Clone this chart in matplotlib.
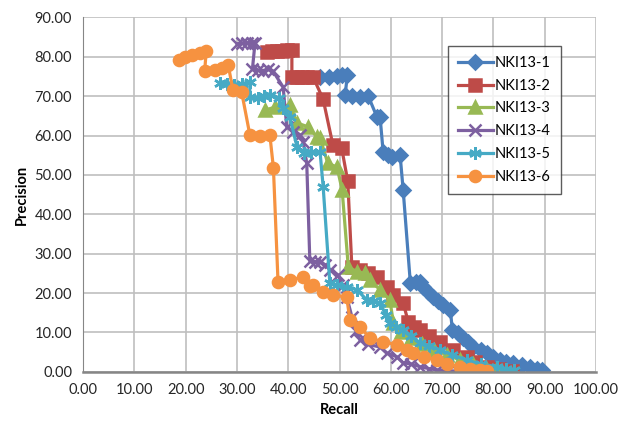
import matplotlib
matplotlib.use("Agg")
import matplotlib.pyplot as plt
from matplotlib.ticker import FormatStrFormatter


# recall / precision
recall_1 = [46.2, 48.0, 49.5, 50.5, 51.5, 51.1, 52.5, 54.0, 55.6, 57.3, 57.9, 58.5, 59.5, 60.2, 61.8,
            62.4, 63.8, 65.0, 65.7, 66.3, 67.2, 68.3, 69.2, 70.2, 71.6, 72.0, 73.0, 74.1, 75.0, 76.1,
            77.5, 78.8, 80.0, 81.3, 82.5, 83.9, 85.5, 87.2, 88.5, 89.5]
prec_1 = [74.9, 75.0, 75.2, 75.4, 75.4, 70.3, 70.0, 69.8, 70.0, 64.7, 64.7, 55.8, 55.0, 54.6, 55.1,
          46.2, 22.6, 22.7, 22.8, 21.5, 20.3, 19.0, 18.0, 17.0, 15.7, 10.6, 9.8, 8.6, 7.5, 6.4,
          5.6, 4.8, 3.9, 3.0, 2.5, 2.2, 1.8, 1.3, 0.8, 0.5]

recall_2 = [35.8, 36.8, 37.8, 38.8, 39.8, 40.7, 40.7, 41.7, 42.7, 43.7, 44.8, 46.8, 48.7, 50.4, 51.6,
            52.4, 54.0, 55.5, 57.3, 59.2, 60.5, 62.4, 63.4, 64.5, 65.7, 67.5, 69.6, 72.2, 74.8, 76.5,
            78.7, 81.0, 83.6]
prec_2 = [81.2, 81.4, 81.5, 81.6, 81.7, 81.7, 75.0, 75.0, 75.0, 75.0, 75.0, 69.2, 57.6, 56.9, 48.4,
          26.6, 25.8, 25.0, 24.0, 21.6, 19.5, 17.5, 12.7, 11.5, 10.7, 9.0, 7.5, 5.6, 3.8, 2.5,
          1.3, 0.8, 0.3]

recall_3 = [35.5, 37.4, 40.3, 41.7, 43.9, 45.6, 46.2, 47.7, 49.5, 50.5, 51.7, 53.4, 55.0, 55.9, 57.9,
            59.8, 60.5, 62.0, 64.0, 66.0, 68.5, 71.0, 73.5, 76.0, 78.5, 80.5]
prec_3 = [66.5, 67.2, 67.8, 63.2, 62.2, 59.6, 59.4, 53.0, 52.0, 46.2, 26.7, 25.4, 25.1, 23.4, 20.8,
          18.3, 12.4, 10.0, 8.5, 7.2, 5.6, 4.3, 3.0, 1.9, 1.0, 0.4]

recall_4 = [30.0, 31.0, 32.0, 33.0, 33.5, 33.0, 34.0, 35.0, 36.0, 37.0, 39.0, 39.7, 41.0, 42.3, 42.9,
            43.6, 44.2, 45.2, 46.2, 47.2, 48.2, 49.7, 50.6, 51.4, 52.4, 53.2, 54.0, 55.5, 57.9, 59.2,
            61.2, 62.4, 64.0, 65.7, 67.5, 69.0, 71.0, 73.0]
prec_4 = [83.3, 83.5, 83.6, 83.5, 83.4, 76.8, 76.6, 76.5, 76.8, 76.4, 72.3, 62.2, 61.0, 60.2, 58.4,
          53.0, 28.2, 28.0, 27.9, 27.2, 25.9, 24.6, 22.0, 19.0, 14.0, 10.5, 8.1, 7.0, 6.3, 4.8,
          3.8, 2.3, 2.0, 1.3, 0.8, 0.5, 0.3, 0.2]

recall_5 = [26.7, 28.0, 29.5, 31.0, 32.5, 32.5, 34.0, 35.2, 36.4, 38.1, 39.0, 40.3, 41.7, 43.0, 44.5,
            46.2, 46.8, 48.1, 49.5, 51.4, 53.4, 55.3, 56.5, 57.9, 59.0, 59.8, 61.0, 62.4, 64.0, 65.7,
            67.5, 69.6, 72.0, 74.8, 77.5, 80.7, 82.5, 84.0]
prec_5 = [73.3, 73.0, 72.8, 73.2, 73.6, 69.8, 69.6, 70.0, 70.3, 69.5, 67.0, 64.7, 57.1, 55.5, 55.8,
          55.8, 47.0, 22.6, 22.0, 21.6, 20.8, 18.3, 18.0, 17.5, 14.5, 12.4, 11.5, 10.7, 9.0, 7.4,
          6.5, 5.6, 4.3, 3.0, 2.0, 1.3, 0.8, 0.4]

recall_6 = [18.7, 19.8, 21.2, 22.8, 24.0, 23.7, 25.7, 27.0, 28.3, 29.2, 30.9, 32.5, 34.5, 36.4, 37.1,
            38.0, 40.3, 42.9, 44.2, 44.9, 46.8, 48.8, 51.4, 52.0, 54.0, 55.9, 58.5, 61.2, 63.1, 64.4,
            66.5, 69.0, 71.0, 73.5, 75.5, 77.4, 78.7]
prec_6 = [79.2, 80.0, 80.5, 81.0, 81.5, 76.5, 76.7, 77.2, 77.8, 71.6, 71.1, 60.2, 59.8, 60.2, 51.8,
          22.8, 23.3, 24.1, 21.8, 22.1, 20.3, 19.5, 19.0, 13.2, 11.4, 8.6, 7.6, 6.9, 5.6, 4.8,
          3.8, 3.0, 2.0, 1.3, 0.8, 0.5, 0.2]

names = ["NKI13-1", "NKI13-2", "NKI13-3", "NKI13-4", "NKI13-5", "NKI13-6"]
colors = ["#4A7EBB", "#BE4B48", "#98B954", "#7D60A0", "#46AAC5", "#F69240"]
markers = ["D", "s", "^", "x", (6, 2, 0), "o"]
sizes = [7, 8, 8, 8, 9, 8]

plt.rcParams["font.family"] = ["Lato", "DejaVu Sans"]

fig, ax = plt.subplots(figsize=(6.3, 4.25), dpi=100)
fig.subplots_adjust(left=0.132, right=0.946, bottom=0.125, top=0.959)

series = [(recall_1, prec_1), (recall_2, prec_2), (recall_3, prec_3),
          (recall_4, prec_4), (recall_5, prec_5), (recall_6, prec_6)]
for (r, p), name, c, m, s in zip(series, names, colors, markers, sizes):
    ax.plot(r, p, color=c, lw=2.3, marker=m, markersize=s, markeredgewidth=1.8,
            markeredgecolor=c, markerfacecolor=c, label=name)

ax.set_xlim(0, 100)
ax.set_ylim(0, 90)
ax.set_xticks(range(0, 101, 10))
ax.set_yticks(range(0, 91, 10))
ax.xaxis.set_major_formatter(FormatStrFormatter("%.2f"))
ax.yaxis.set_major_formatter(FormatStrFormatter("%.2f"))
ax.tick_params(length=0, labelsize=10.5, colors="#262626", pad=8)
ax.grid(True, color="#BFBFBF", lw=1.2)
ax.set_axisbelow(True)
for side in ["top", "right"]:
    ax.spines[side].set_visible(False)
ax.spines["left"].set_color("#868686")
ax.spines["bottom"].set_color("#868686")
ax.spines["bottom"].set_linewidth(1.8)

ax.set_xlabel("Recall", fontweight="bold", fontsize=10.5, labelpad=4)
ax.set_ylabel("Precision", fontweight="bold", fontsize=10.5, labelpad=4)

leg = ax.legend(loc="upper left", bbox_to_anchor=(0.711, 0.92), borderaxespad=0,
                fontsize=10.5, frameon=True, fancybox=False, numpoints=1, handlelength=2.4,
                borderpad=0.7, labelspacing=0.6, handletextpad=0.1)
leg.get_frame().set_edgecolor("#333333")
leg.get_frame().set_linewidth(1.0)

fig.savefig("out.png", dpi=100)
